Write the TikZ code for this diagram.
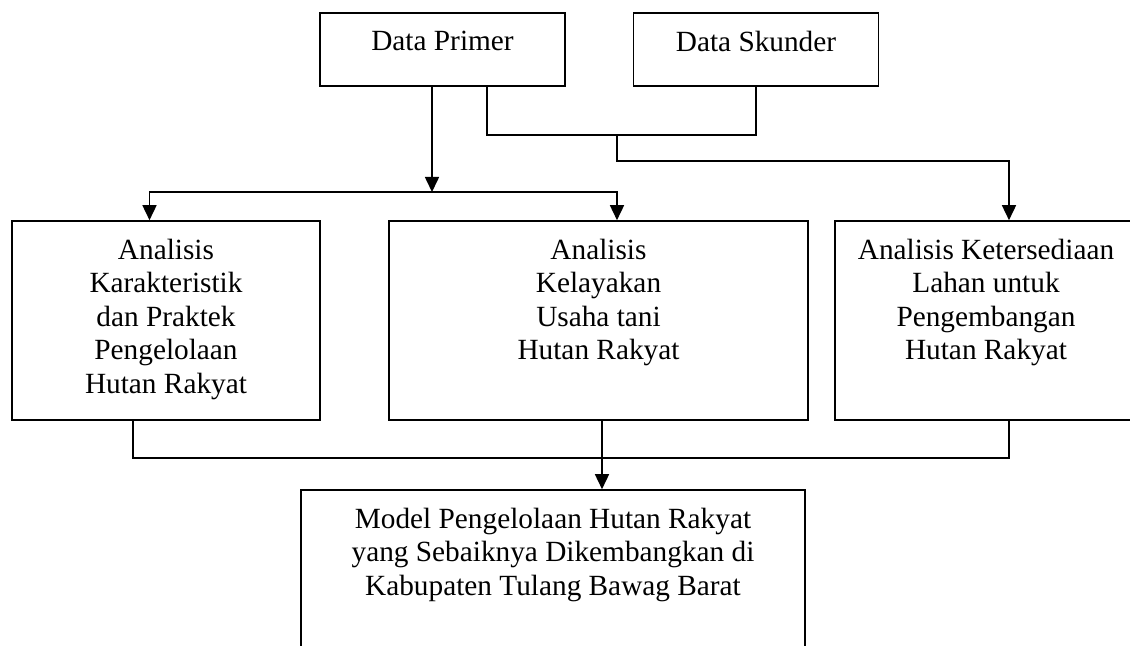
\documentclass[tikz,border=0pt]{standalone}
\usepackage{fontspec}
\setmainfont{Liberation Serif}
\usetikzlibrary{arrows.meta}
\tikzset{box/.style={draw, inner sep=0pt}, txt/.style={anchor=north, yshift=-9pt, align=center, inner sep=0pt, font=\fontsize{14.65}{16.75}\selectfont}, arr/.style={-{Triangle[length=7.5pt,width=7pt]}}}

\begin{document}
\begin{tikzpicture}[x=0.5pt,y=-0.5pt,line width=0.8pt]
  \useasboundingbox (0,0) rectangle (1130,646);
  \clip (0,0) rectangle (1130,646);
  % sources
  \node[box, minimum width=122.5pt, minimum height=36.5pt, label={[txt]north:Data Primer}]  (prim) at (442.5,49.5) {};
  \node[box, minimum width=122.5pt, minimum height=36.5pt, label={[txt]north:Data Skunder}] (skun) at (756,49.5) {};
  % analyses (the right one runs off the page)
  \node[box, minimum width=154pt, minimum height=99.5pt, label={[txt]north:Analisis\\Karakteristik\\dan Praktek\\Pengelolaan\\Hutan Rakyat}] (kar) at (166,320.5) {};
  \node[box, minimum width=209.5pt, minimum height=99.5pt, label={[txt]north:Analisis\\Kelayakan\\Usaha tani\\Hutan Rakyat}] (lay) at (598.5,320.5) {};
  \node[box, minimum width=151pt, minimum height=99.5pt, label={[txt]north:Analisis Ketersediaan\\Lahan untuk\\Pengembangan\\Hutan Rakyat}] (lah) at (986,320.5) {};
  % result (runs off the page)
  \node[box, minimum width=252pt, minimum height=105pt, label={[txt]north:Model Pengelolaan Hutan Rakyat\\yang Sebaiknya Dikembangkan di\\Kabupaten Tulang Bawag Barat}] (model) at (553,595) {};
  \coordinate (bus1) at (0,192);
  \coordinate (bus2) at (617,135);
  \coordinate (bus3) at (0,161);
  \coordinate (bus4) at (602,458);
  \coordinate (karin) at ([xshift=-8.25pt]kar.north);
  \coordinate (layin) at ([xshift=9.25pt]lay.north);
  \coordinate (lahin) at ([xshift=11.5pt]lah.north);
  \draw[arr] ([xshift=-5.25pt]prim.south) -- ([xshift=-5.25pt]prim.south |- bus1);
  \draw[arr] (layin |- bus1) -| (karin);
  \draw[arr] (karin |- bus1) -| (layin);
  \draw ([xshift=22.25pt]prim.south) |- (bus2) -| (skun.south);
  \draw[arr] (bus2) -- (bus2 |- bus3) -| (lahin);
  \draw ([xshift=-16.5pt]kar.south) |- (bus4) -| ([xshift=11.5pt]lah.south);
  \draw (bus4 |- lay.south) -- (bus4);
  \draw[arr] (bus4) -- (bus4 |- model.north);
\end{tikzpicture}
\end{document}
